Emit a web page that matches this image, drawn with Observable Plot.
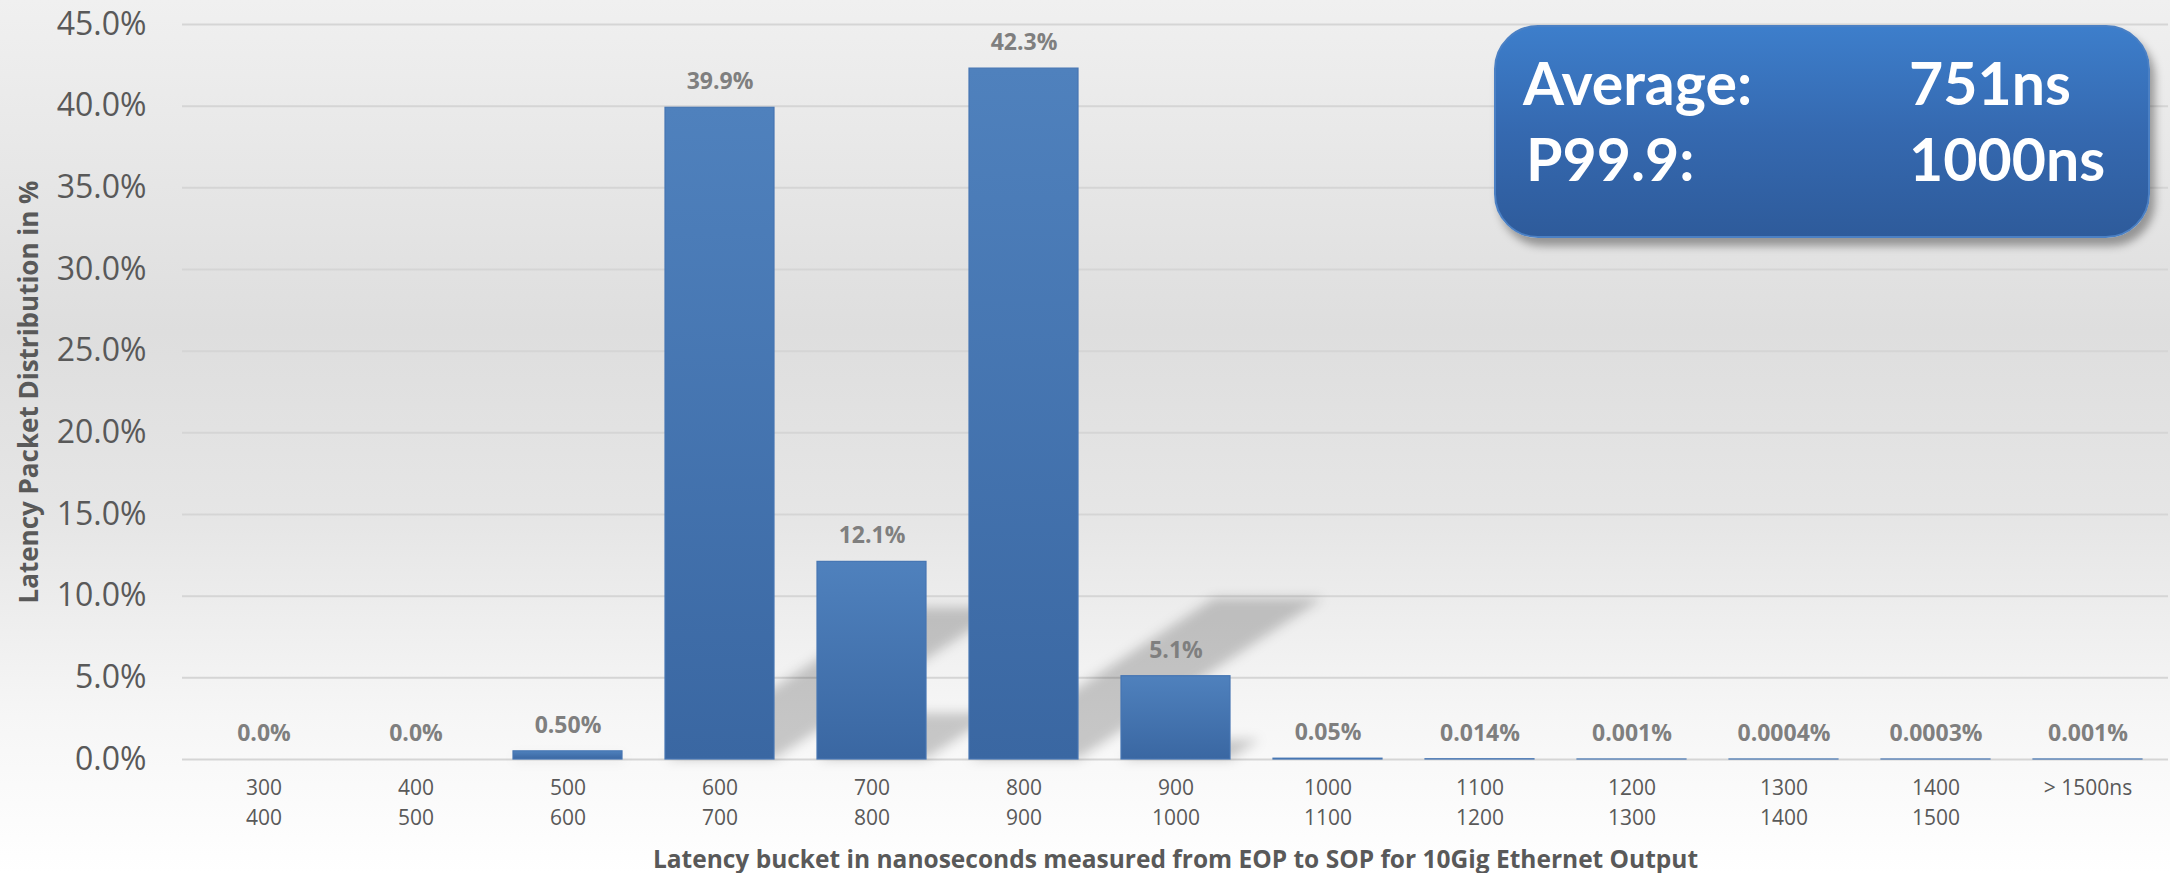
<!DOCTYPE html>
<html>
<head>
<meta charset="utf-8">
<script src="https://cdn.jsdelivr.net/npm/d3@7"></script>
<script src="https://cdn.jsdelivr.net/npm/@observablehq/plot@0.6"></script>
<style>
html, body { margin: 0; padding: 0; overflow: hidden; }
#wrap {
  position: relative; width: 2170px; height: 873px;
  background: linear-gradient(to bottom, #f0f0f0 0%, #dedede 38%, #e6e6e6 60%, #f6f6f6 82%, #ffffff 100%);
}
#chart { position: absolute; left: 0; top: 0; }
#box {
  position: absolute; left: 1494px; top: 25px; width: 656px; height: 213px;
  box-sizing: border-box; border-radius: 44px; border: 2px solid #4b80c4;
  background: linear-gradient(to bottom, #3d7ecb 0%, #3569b0 50%, #2e5b9b 100%);
  box-shadow: 5px 8px 9px rgba(0,0,0,0.35);
}
#box span {
  position: absolute; font-family: Lato, "Open Sans", sans-serif; font-weight: bold;
  font-size: 59px; line-height: 60px; color: #ffffff; white-space: nowrap;
}
</style>
</head>
<body>
<div id="wrap">
  <div id="chart"></div>
  <div id="box">
    <span style="left:27px; top:26px">Average:</span>
    <span style="left:413px; top:26px">751ns</span>
    <span style="left:30px; top:102px">P99.9:</span>
    <span style="left:413px; top:102px">1000ns</span>
  </div>
</div>
<script>
const categories = ["300\n400", "400\n500", "500\n600", "600\n700", "700\n800", "800\n900", "900\n1000",
  "1000\n1100", "1100\n1200", "1200\n1300", "1300\n1400", "1400\n1500", "> 1500ns"];
const values = [0, 0, 0.5, 39.9, 12.1, 42.3, 5.1, 0.05, 0.014, 0.001, 0.0004, 0.0003, 0.001];
const labels = ["0.0%", "0.0%", "0.50%", "39.9%", "12.1%", "42.3%", "5.1%", "0.05%", "0.014%", "0.001%", "0.0004%", "0.0003%", "0.001%"];
const yTicks = [0, 5, 10, 15, 20, 25, 30, 35, 40, 45];
const yTitle = "Latency Packet Distribution in %";
const xTitle = "Latency bucket in nanoseconds measured from EOP to SOP for 10Gig Ethernet Output";

const data = categories.map((c, i) => ({bucket: c, value: values[i], label: labels[i]}));

const svg = Plot.plot({
  width: 2170, height: 873,
  marginTop: 24, marginBottom: 114, marginLeft: 182, marginRight: 2,
  style: {background: "transparent", fontFamily: "'Open Sans', sans-serif", fontSize: "32px", color: "#595959", overflow: "visible"},
  x: {type: "band", domain: categories, paddingInner: 0.286, paddingOuter: 0.143, axis: null},
  y: {domain: [0, 45], ticks: yTicks, tickFormat: d => d.toFixed(1) + "%", tickSize: 0, tickPadding: 36, label: null},
  marks: [
    Plot.ruleY(yTicks, {stroke: "#d5d5d5", strokeWidth: 2}),
    Plot.barY(data, {x: "bucket", y: "value", fill: "url(#barGrad)", stroke: "#4676b3", strokeWidth: 1.2}),
    Plot.text(data, {x: "bucket", y: "value", text: "label", dy: -26, fontSize: 23, fontWeight: "bold", fill: "#7f7f7f"}),
    Plot.text(data, {x: "bucket", frameAnchor: "bottom", text: "bucket", lineAnchor: "top", dy: 14, fontSize: 21, lineHeight: 1.43, fill: "#595959"}),
    Plot.text([yTitle], {frameAnchor: "left", dx: -153, rotate: -90, textAnchor: "middle", lineAnchor: "middle", fontSize: 26, fontWeight: "bold", fill: "#595959"}),
    Plot.text([xTitle], {frameAnchor: "bottom", dy: 101, textAnchor: "middle", lineAnchor: "middle", fontSize: 24.5, fontWeight: "bold", fill: "#595959"})
  ]
});

const ns = "http://www.w3.org/2000/svg";
const defs = document.createElementNS(ns, "defs");
defs.innerHTML = `<linearGradient id="barGrad" x1="0" y1="0" x2="0" y2="1">
  <stop offset="0" stop-color="#4f81bd"/><stop offset="1" stop-color="#3a67a2"/></linearGradient>
  <filter id="shBlur" x="-30%" y="-30%" width="160%" height="160%"><feGaussianBlur stdDeviation="6"/></filter>`;
svg.insertBefore(defs, svg.firstChild);

// perspective shadow derived from the rendered bars
const barG = svg.querySelector('g[aria-label="bar"]');
if (barG) {
  const shG = document.createElementNS(ns, "g");
  shG.setAttribute("filter", "url(#shBlur)");
  shG.setAttribute("fill", "#000");
  shG.setAttribute("fill-opacity", "0.2");
  barG.querySelectorAll("rect").forEach(r => {
    const x = +r.getAttribute("x"), y = +r.getAttribute("y");
    const w = +r.getAttribute("width"), h = +r.getAttribute("height");
    if (!(h > 4)) return;
    const yb = y + h, sh = 0.233 * h, sx = 0.355 * h;
    const p = document.createElementNS(ns, "polygon");
    p.setAttribute("points", `${x},${yb} ${x + w},${yb} ${x + w + sx},${yb - sh} ${x + sx},${yb - sh}`);
    shG.appendChild(p);
  });
  barG.parentNode.insertBefore(shG, barG);
}

document.getElementById("chart").appendChild(svg);
</script>
</body>
</html>
